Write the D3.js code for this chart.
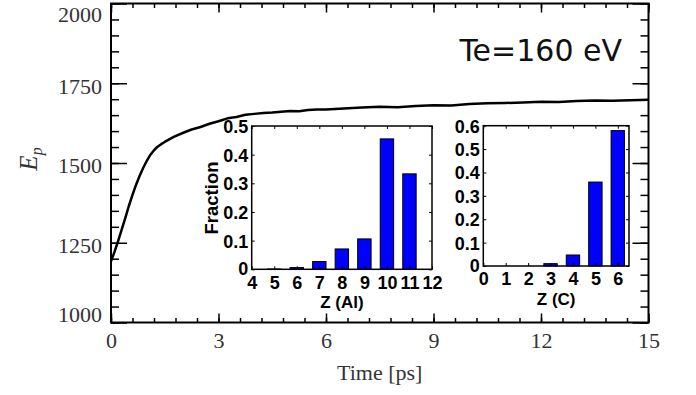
<!DOCTYPE html>
<html>
<head>
<meta charset="utf-8">
<script src="https://cdn.jsdelivr.net/npm/d3@7"></script>
<style>
  body { margin: 0; background: #fff; }
  svg { display: block; }
</style>
</head>
<body>
<svg id="chart" width="696" height="395"></svg>
<script>
'use strict';

// main curve: Ep vs time
var times = [0, 0.1, 0.2, 0.3, 0.4, 0.5, 0.6, 0.7, 0.8, 0.9, 1.0, 1.1, 1.2, 1.3, 1.4, 1.5,
  1.75, 2.0, 2.25, 2.5, 2.75, 3.0, 3.25, 3.5, 3.75, 4.0, 4.25, 4.5, 4.75, 5.0, 5.25, 5.5,
  5.75, 6.0, 6.5, 7.0, 7.5, 8.0, 8.5, 9.0, 9.5, 10.0, 10.5, 11.0, 11.5, 12.0, 12.5, 13.0,
  13.5, 14.0, 14.5, 15.0];
var energies = [1192, 1222, 1256, 1292, 1328, 1366, 1400, 1432, 1460, 1485, 1507, 1526, 1540, 1551, 1559, 1566,
  1582, 1594, 1605, 1613, 1623, 1631, 1640, 1644, 1651, 1654, 1657, 1658, 1661, 1663, 1662, 1666,
  1668, 1668, 1671, 1674, 1676, 1675, 1679, 1681, 1680, 1685, 1687, 1688, 1690, 1692, 1691, 1694,
  1696, 1695, 1697, 1698];

var yMajor = [1000, 1250, 1500, 1750, 2000];
var xMajor = [0, 3, 6, 9, 12, 15];

// inset histograms
var zAl = [4, 5, 6, 7, 8, 9, 10, 11];
var fracAl = [0, 0.001, 0.006, 0.027, 0.071, 0.106, 0.455, 0.333];
var zAlTicks = [4, 5, 6, 7, 8, 9, 10, 11, 12];

var zC = [0, 1, 2, 3, 4, 5, 6];
var fracC = [0, 0, 0, 0.01, 0.047, 0.359, 0.579];
var zCTicks = [0, 1, 2, 3, 4, 5, 6];

var svg = d3.select('#chart');

var x = d3.scaleLinear().domain([0, 15]).range([111, 648.5]);
var y = d3.scaleLinear().domain([1000, 2000]).range([322.5, 3.5]);

var serif = '"Liberation Serif", "Times New Roman", serif';
var sans = '"Liberation Sans", Arial, sans-serif';
var intFmt = d3.format('d');

function minorTicks (lo, hi, step) {
  var out = [];
  for (var v = lo; v <= hi + 1e-9; v += step) out.push(+v.toFixed(4));
  return out;
}

function styleAxis (g, font, size, weight, color) {
  g.attr('font-family', font).attr('font-size', size).attr('font-weight', weight);
  g.select('.domain').remove();
  g.selectAll('.tick line').attr('stroke', '#000').attr('stroke-width', 1.5);
  g.selectAll('.tick text').attr('fill', color);
}

// main axes (ticks point inward)
var gLeft = svg.append('g').attr('transform', 'translate(' + x(0) + ',0)')
  .call(d3.axisLeft(y).tickValues(yMajor).tickSize(-16).tickPadding(9).tickFormat(intFmt));
styleAxis(gLeft, serif, 22, 'normal', '#333');
gLeft.selectAll('.tick text').attr('dy', d => d === 2000 ? '0.8em' : d === 1000 ? '-0.05em' : '0.45em');

svg.append('g').attr('transform', 'translate(' + x(0) + ',0)')
  .call(d3.axisLeft(y).tickValues(minorTicks(1000, 2000, 50)).tickSize(-8).tickFormat(''))
  .call(g => styleAxis(g, serif, 22, 'normal', '#333'));
svg.append('g').attr('transform', 'translate(' + x(15) + ',0)')
  .call(d3.axisRight(y).tickValues(yMajor).tickSize(-16).tickFormat(''))
  .call(g => styleAxis(g, serif, 22, 'normal', '#333'));
svg.append('g').attr('transform', 'translate(' + x(15) + ',0)')
  .call(d3.axisRight(y).tickValues(minorTicks(1000, 2000, 50)).tickSize(-8).tickFormat(''))
  .call(g => styleAxis(g, serif, 22, 'normal', '#333'));

var gBottom = svg.append('g').attr('transform', 'translate(0,' + y(1000) + ')')
  .call(d3.axisBottom(x).tickValues(xMajor).tickSize(-9).tickPadding(10).tickFormat(intFmt));
styleAxis(gBottom, serif, 22, 'normal', '#333');
svg.append('g').attr('transform', 'translate(0,' + y(1000) + ')')
  .call(d3.axisBottom(x).tickValues(minorTicks(0, 15, 0.6)).tickSize(-4.5).tickFormat(''))
  .call(g => styleAxis(g, serif, 22, 'normal', '#333'));
svg.append('g').attr('transform', 'translate(0,' + y(2000) + ')')
  .call(d3.axisTop(x).tickValues(xMajor).tickSize(-9).tickFormat(''))
  .call(g => styleAxis(g, serif, 22, 'normal', '#333'));
svg.append('g').attr('transform', 'translate(0,' + y(2000) + ')')
  .call(d3.axisTop(x).tickValues(minorTicks(0, 15, 0.6)).tickSize(-4.5).tickFormat(''))
  .call(g => styleAxis(g, serif, 22, 'normal', '#333'));

svg.append('rect')
  .attr('x', x(0)).attr('y', y(2000))
  .attr('width', x(15) - x(0)).attr('height', y(1000) - y(2000))
  .attr('fill', 'none').attr('stroke', '#000').attr('stroke-width', 2);

// curve
var line = d3.line().x((d, i) => x(times[i])).y(d => y(d));
svg.append('path')
  .datum(energies)
  .attr('d', line)
  .attr('fill', 'none')
  .attr('stroke', '#000')
  .attr('stroke-width', 2.5)
  .attr('stroke-linejoin', 'round');

// axis titles
svg.append('text')
  .attr('x', (x(0) + x(15)) / 2).attr('y', 380)
  .attr('text-anchor', 'middle')
  .attr('font-family', serif).attr('font-size', 22).attr('fill', '#333')
  .text('Time [ps]');

var ep = svg.append('text')
  .attr('transform', 'translate(37,159) rotate(-90)')
  .attr('text-anchor', 'middle')
  .attr('font-family', serif).attr('font-style', 'italic').attr('fill', '#333');
ep.append('tspan').attr('font-size', 25).text('E');
ep.append('tspan').attr('font-size', 16).attr('dy', 5).text('p');

svg.append('text')
  .attr('x', 622).attr('y', 60.5)
  .attr('text-anchor', 'end')
  .attr('font-family', '"DejaVu Sans", sans-serif').attr('font-size', 30).attr('fill', '#111')
  .text('Te=160 eV');

// inset bar chart
function drawInset (opt) {
  var ix = d3.scaleLinear().domain(opt.xDomain).range([opt.left, opt.right]);
  var iy = d3.scaleLinear().domain([0, opt.yMax]).range([opt.bottom, opt.top]);
  var g = svg.append('g');
  var yTicks = minorTicks(0, opt.yMax, 0.1);
  var fmt = d => d === 0 ? '0' : d3.format('.1f')(d);

  g.append('rect')
    .attr('x', opt.left).attr('y', opt.top)
    .attr('width', opt.right - opt.left).attr('height', opt.bottom - opt.top)
    .attr('fill', '#fff');

  g.selectAll('.bar')
    .data(opt.values)
    .enter().append('rect')
    .attr('class', 'bar')
    .attr('x', (d, i) => ix(opt.cats[i]) - 6.7)
    .attr('width', 13.4)
    .attr('y', d => iy(d))
    .attr('height', d => iy(0) - iy(d))
    .attr('fill', '#0000ff')
    .attr('stroke', '#000')
    .attr('stroke-width', 1);

  var gl = g.append('g').attr('transform', 'translate(' + opt.left + ',0)')
    .call(d3.axisLeft(iy).tickValues(yTicks).tickSize(-3).tickPadding(3.5).tickFormat(fmt));
  styleAxis(gl, sans, 18, 'bold', '#000');
  gl.selectAll('.tick text').attr('dy', d => d === 0 ? '0.3em' : '0.36em');
  g.append('g').attr('transform', 'translate(' + opt.right + ',0)')
    .call(d3.axisRight(iy).tickValues(yTicks).tickSize(-3).tickFormat(''))
    .call(s => styleAxis(s, sans, 18, 'bold', '#000'));
  var gb = g.append('g').attr('transform', 'translate(0,' + opt.bottom + ')')
    .call(d3.axisBottom(ix).tickValues(opt.ticks).tickSize(-3).tickPadding(6.5).tickFormat(intFmt));
  styleAxis(gb, sans, 18, 'bold', '#000');
  g.append('g').attr('transform', 'translate(0,' + opt.top + ')')
    .call(d3.axisTop(ix).tickValues(opt.ticks).tickSize(-3).tickFormat(''))
    .call(s => styleAxis(s, sans, 18, 'bold', '#000'));
  g.selectAll('.tick line').attr('stroke-width', 1);

  g.append('rect')
    .attr('x', opt.left).attr('y', opt.top)
    .attr('width', opt.right - opt.left).attr('height', opt.bottom - opt.top)
    .attr('fill', 'none').attr('stroke', '#000').attr('stroke-width', 1.5);

  g.append('text')
    .attr('x', (opt.left + opt.right) / 2).attr('y', opt.xTitleY)
    .attr('text-anchor', 'middle')
    .attr('font-family', sans).attr('font-size', 17).attr('font-weight', 'bold')
    .text(opt.xTitle);
  return g;
}

drawInset({
  cats: zAl, values: fracAl, ticks: zAlTicks, xDomain: [4, 12], yMax: 0.5,
  left: 251.7, right: 432, top: 126, bottom: 269.3,
  xTitle: 'Z (Al)', xTitleY: 308
});
svg.append('text')
  .attr('transform', 'translate(218,198) rotate(-90)')
  .attr('text-anchor', 'middle')
  .attr('font-family', sans).attr('font-size', 18.5).attr('font-weight', 'bold')
  .text('Fraction');

drawInset({
  cats: zC, values: fracC, ticks: zCTicks, xDomain: [0, 6.5], yMax: 0.6,
  left: 483.3, right: 629, top: 125.7, bottom: 266,
  xTitle: 'Z (C)', xTitleY: 305
});
</script>
</body>
</html>
